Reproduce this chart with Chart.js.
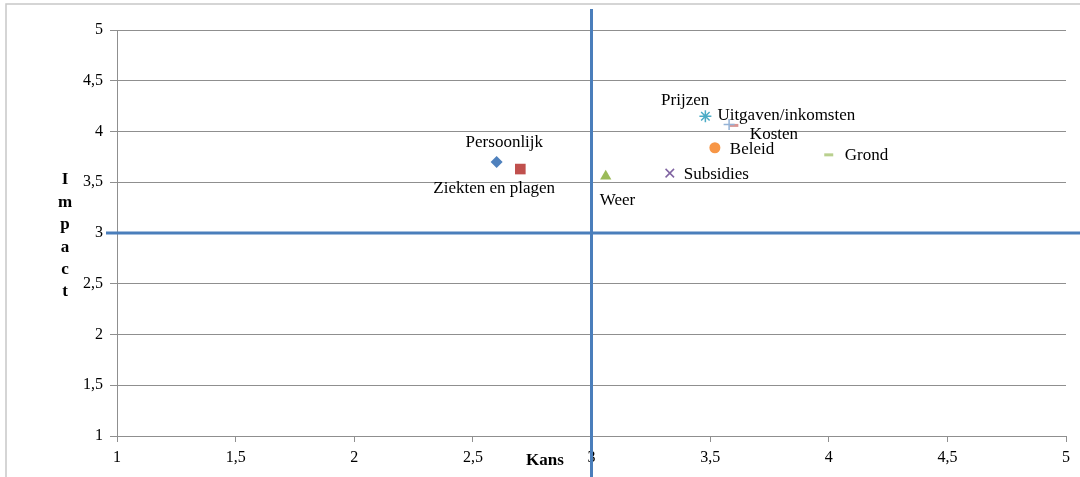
<!DOCTYPE html>
<html>
<head>
<meta charset="utf-8">
<script src="https://cdn.jsdelivr.net/npm/chart.js@4/dist/chart.umd.min.js"></script>
<style>
  html, body { margin: 0; padding: 0; background: #fff; }
  #wrap { width: 1080px; height: 477px; }
</style>
</head>
<body>
<div id="wrap"><canvas id="risk-chart" width="1080" height="477"></canvas></div>
<script>
// risks: kans (x) vs impact (y)
const riskNames = ['Persoonlijk', 'Ziekten en plagen', 'Weer', 'Subsidies', 'Uitgaven/inkomsten', 'Beleid', 'Prijzen', 'Kosten', 'Grond'];
const kansValues = [2.6, 2.7, 3.06, 3.33, 3.48, 3.52, 3.58, 3.6, 4.0];
const impactValues = [3.7, 3.63, 3.56, 3.59, 4.15, 3.84, 4.07, 4.06, 3.77];
const axisTicks = [1, 1.5, 2, 2.5, 3, 3.5, 4, 4.5, 5];
const thresholdKans = 3;
const thresholdImpact = 3;

const markerStyles = [
    { style: 'rectRot', color: '#4F81BD', r: 6 },
    { style: 'rect', color: '#C0504D', r: 7.5 },
    { style: 'triangle', color: '#9BBB59', r: 6.5 },
    { style: 'crossRot', color: '#8064A2', r: 6, line: true },
    { style: 'star', color: '#4BACC6', r: 6, line: true },
    { style: 'circle', color: '#F79646', r: 5.5 },
    { style: 'cross', color: '#95B3D7', r: 5.5, line: true },
    { style: 'line', color: '#D99694', r: 4.5, line: true, w: 3 },
    { style: 'line', color: '#B9D08E', r: 4.5, line: true, w: 3 }
];

// where each label sits relative to its marker (left edge, vertical centre)
const labelOffsets = [
    [-31, -19], [-87, 19], [-6, 24], [14, 1], [12, -1], [15, 2], [-68, -24], [16, 9], [16, 1]
];

const serif = "'Liberation Serif', 'Times New Roman', serif";
const commaFmt = v => String(v).replace('.', ',');

const datasets = riskNames.map((name, i) => {
    const m = markerStyles[i];
    return {
        label: name,
        data: [{ x: kansValues[i], y: impactValues[i] }],
        pointStyle: m.style,
        pointRadius: m.r,
        pointHoverRadius: m.r,
        backgroundColor: m.color,
        borderColor: m.color,
        borderWidth: m.line ? (m.w || 1.5) : 0
    };
});

const frame = {
    id: 'frame',
    beforeDraw(chart) {
        const ctx = chart.ctx;
        ctx.save();
        ctx.fillStyle = '#fff';
        ctx.fillRect(0, 0, chart.width, chart.height);
        ctx.strokeStyle = '#c8c8c8';
        ctx.lineWidth = 1.5;
        ctx.strokeRect(6, 4, chart.width + 20, chart.height + 20);
        ctx.restore();
    },
    afterDatasetsDraw(chart) {
        const ctx = chart.ctx;
        const xs = chart.scales.x, ys = chart.scales.y;
        const area = chart.chartArea;

        // quadrant lines
        ctx.save();
        ctx.strokeStyle = '#4A7EBB';
        ctx.lineWidth = 3;
        const px = xs.getPixelForValue(thresholdKans);
        const py = ys.getPixelForValue(thresholdImpact);
        ctx.beginPath();
        ctx.moveTo(px, area.top - 21);
        ctx.lineTo(px, chart.height);
        ctx.moveTo(area.left - 11, py);
        ctx.lineTo(chart.width, py);
        ctx.stroke();
        ctx.restore();

        // point labels
        ctx.save();
        ctx.font = '17px ' + serif;
        ctx.fillStyle = '#000';
        ctx.textAlign = 'left';
        ctx.textBaseline = 'middle';
        riskNames.forEach((name, i) => {
            const x = xs.getPixelForValue(kansValues[i]);
            const y = ys.getPixelForValue(impactValues[i]);
            ctx.fillText(name, x + labelOffsets[i][0], y + labelOffsets[i][1]);
        });

        // axis titles
        ctx.font = 'bold 17px ' + serif;
        ctx.textAlign = 'center';
        ctx.fillText('Kans', area.left + 428, area.bottom + 25);
        'Impact'.split('').forEach((ch, i) => {
            ctx.fillText(ch, 65, area.top + 150 + i * 22.4);
        });
        ctx.restore();
    }
};

new Chart(document.getElementById('risk-chart'), {
    type: 'scatter',
    data: { datasets: datasets },
    options: {
        responsive: false,
        animation: false,
        layout: { padding: { top: 30, right: 14, left: 0, bottom: 0 } },
        plugins: {
            legend: { display: false },
            tooltip: { enabled: false }
        },
        scales: {
            x: {
                type: 'linear',
                min: 1,
                max: 5,
                afterBuildTicks: s => { s.ticks = axisTicks.map(v => ({ value: v })); },
                afterFit: s => { s.height = 41; },
                ticks: {
                    callback: commaFmt,
                    font: { family: serif, size: 16 },
                    color: '#000',
                    padding: 6,
                    maxRotation: 0
                },
                grid: { drawOnChartArea: false, drawTicks: true, tickLength: 6, color: '#8f8f8f' },
                border: { color: '#8f8f8f' }
            },
            y: {
                type: 'linear',
                min: 1,
                max: 5,
                afterBuildTicks: s => { s.ticks = axisTicks.map(v => ({ value: v })); },
                afterFit: s => { s.width = 117; },
                ticks: {
                    callback: commaFmt,
                    font: { family: serif, size: 16 },
                    color: '#000',
                    padding: 7
                },
                grid: { color: '#8f8f8f', tickLength: 7 },
                border: { color: '#8f8f8f' }
            }
        }
    },
    plugins: [frame]
});
</script>
</body>
</html>
